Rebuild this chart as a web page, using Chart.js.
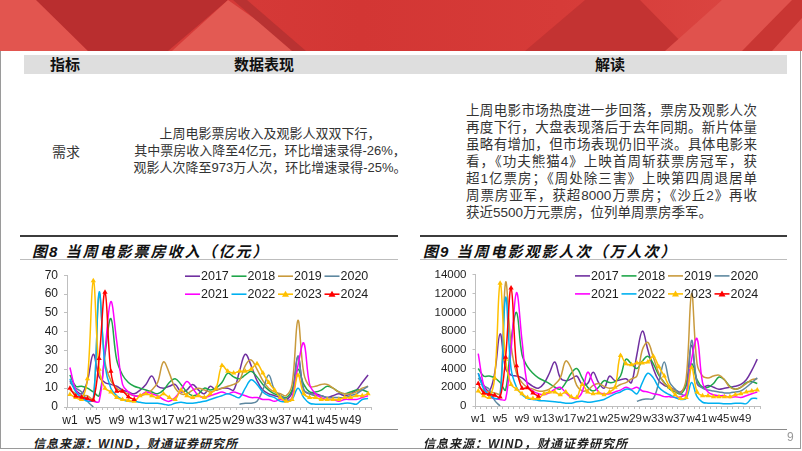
<!DOCTYPE html>
<html lang="zh-CN">
<head>
<meta charset="UTF-8" />
<title>当周电影票房与观影人次</title>
<style>
  html, body {
    margin: 0;
    padding: 0;
    width: 802px;
    height: 451px;
    overflow: hidden;
    background: #fff;
    font-family: "Liberation Sans", "Noto Sans CJK SC", sans-serif;
    color: #222;
  }
  #page { position: relative; width: 802px; height: 451px; }
  #banner { position: absolute; left: 0; top: 0; width: 802px; height: 51px; overflow: hidden;
    background: linear-gradient(90deg, #d9403e, #d33634 45%, #d63b38 70%, #dc4844); }
  #banner div { position: absolute; left: 0; top: 0; width: 802px; height: 51px; }
  #frame { position: absolute; left: 0; top: 51px; width: 799px; height: 397px;
    border-left: 1px solid #9a9a9a; border-right: 1px solid #9a9a9a; border-bottom: 1px solid #9a9a9a; }
  .abs { position: absolute; white-space: nowrap; }
  #headbar { position: absolute; left: 24px; top: 55px; width: 763px; height: 19px; background: #dedede; }
  .head { position: absolute; top: 55px; line-height: 19px; font-size: 15px; font-weight: 700; color: #111; transform: translateX(-50%); }
  .mid { position: absolute; left: 270px; transform: translateX(-50%); font-size: 13px; line-height: 17px; color: #333; white-space: nowrap; }
  .rt { position: absolute; left: 466px; width: 291px; font-size: 13.5px; line-height: 17px; color: #333;
    text-align: justify; text-align-last: justify; white-space: nowrap; }
  .rt.last { text-align-last: left; }
  .line { position: absolute; }
  .ttl { position: absolute; top: 240px; font-size: 15px; font-weight: 700; font-style: italic; letter-spacing: 2px; color: #111; white-space: nowrap; }
  .src { position: absolute; top: 434px; font-size: 12px; font-style: italic; font-weight: 700; letter-spacing: 1px; color: #222; white-space: nowrap; }
  canvas { position: absolute; }
</style>
</head>
<body>
<div id="page">
  <div id="banner">
    <div style="background:#e2554f;clip-path:polygon(0 0,38px 0,88px 51px,0 51px)"></div>
    <div style="background:#b92e2f;clip-path:polygon(36px 0,228px 0,168px 51px,88px 51px)"></div>
    <div style="background:#e35a53;clip-path:polygon(172px 51px,228px 0,300px 51px)"></div>
    <div style="background:#b93232;clip-path:polygon(233px 0,247px 0,306px 51px,292px 51px)"></div>
    <div style="background:#c33332;clip-path:polygon(525px 51px,585px 0,640px 0,690px 51px)"></div>
    <div style="background:#e0524d;clip-path:polygon(665px 51px,722px 0,802px 0,802px 51px)"></div>
    <div style="background:#c93633;clip-path:polygon(742px 51px,792px 0,802px 0,802px 18px,772px 51px)"></div>
  </div>
  <div id="frame"></div>

  <div id="headbar"></div>
  <div class="head" style="left:65px">指标</div>
  <div class="head" style="left:264px">数据表现</div>
  <div class="head" style="left:610px">解读</div>

  <div class="abs" style="left:52px;top:143px;font-size:14px;line-height:18px;color:#333">需求</div>

  <div class="mid" style="top:125px">上周电影票房收入及观影人双双下行，</div>
  <div class="mid" style="top:142px">其中票房收入降至4亿元，环比增速录得-26%，</div>
  <div class="mid" style="top:159px">观影人次降至973万人次，环比增速录得-25%。</div>

  <div class="rt" style="top:102px">上周电影市场热度进一步回落，票房及观影人次</div>
  <div class="rt" style="top:119px">再度下行，大盘表现落后于去年同期。新片体量</div>
  <div class="rt" style="top:136px">虽略有增加，但市场表现仍旧平淡。具体电影来</div>
  <div class="rt" style="top:153px">看，《功夫熊猫4》上映首周斩获票房冠军，获</div>
  <div class="rt" style="top:170px">超1亿票房；《周处除三害》上映第四周退居单</div>
  <div class="rt" style="top:187px">周票房亚军，获超8000万票房；《沙丘2》再收</div>
  <div class="rt last" style="top:204px">获近5500万元票房，位列单周票房季军。</div>

  <div class="line" style="left:20px;top:235px;width:378px;height:2px;background:#3c3c3c"></div>
  <div class="line" style="left:420px;top:235px;width:367px;height:2px;background:#3c3c3c"></div>
  <div class="line" style="left:20px;top:259px;width:378px;height:1px;background:#bdbdbd"></div>
  <div class="line" style="left:420px;top:259px;width:367px;height:1px;background:#bdbdbd"></div>
  <div class="line" style="left:20px;top:429px;width:378px;height:1px;background:#8a8a8a"></div>
  <div class="line" style="left:420px;top:429px;width:367px;height:1px;background:#8a8a8a"></div>

  <div class="ttl" style="left:32px">图8 当周电影票房收入（亿元）</div>
  <div class="ttl" style="left:423px">图9 当周电影观影人次（万人次）</div>

  <canvas id="boxChart" width="356" height="170" style="left:20px;top:262px"></canvas>
  <canvas id="admChart" width="345" height="169" style="left:420px;top:262px"></canvas>

  <div class="src" style="left:33px">信息来源：WIND，财通证券研究所</div>
  <div class="src" style="left:423px">信息来源：WIND，财通证券研究所</div>
  <div class="abs" style="left:787px;top:430px;font-size:12px;color:#999">9</div>
</div>

<script src="https://cdn.jsdelivr.net/npm/chart.js"></script>
<script>
  const weeks = Array.from({ length: 52 }, (_, i) => 'w' + (i + 1));
  const years = ['2017', '2018', '2019', '2020', '2021', '2022', '2023', '2024'];
  const colors = ['#7030a0', '#1fa64a', '#c99a3c', '#5e88a0', '#ff00ff', '#00b0f0', '#ffc000', '#ff0000'];

  // 当周电影票房收入（亿元）
  const bo2017 = [14, 9, 7, 14, 28, 16, 13, 12, 11, 9, 8, 7, 9,
    12, 16.5, 11, 10, 11, 12, 8, 9, 12, 9, 7, 11, 9,
    10, 10, 9, 19, 28, 22, 14, 9, 7, 6, 5, 4, 8,
    27, 9, 7, 7, 6, 5, 6, 7, 6, 7, 9, 13, 17];
  const bo2018 = [17, 11, 11, 10, 8, 6, 28, 47, 25, 17, 13, 11, 10,
    9, 8, 7, 9, 13, 15, 12, 8, 6, 7, 10, 9, 10,
    13, 18, 16, 15, 17, 19, 16, 12, 9, 7, 6, 5, 9,
    20, 12, 8, 8, 9, 11, 10, 8, 7, 8, 9, 9, 8];
  const bo2019 = [9, 7, 6, 6, 4, 60, 24, 14, 10, 8, 7, 6, 6,
    7, 9, 13, 24, 18, 10, 7, 7, 9, 10, 9, 8, 9,
    10, 11, 12, 14, 22, 25, 20, 14, 10, 8, 7, 6, 12,
    46, 18, 11, 11, 12, 12, 10, 8, 7, 7, 8, 10, 11];
  const bo2020 = [13, 10, 8, 3, 0,
    null, null, null, null, null, null, null, null, null, null, null, null,
    null, null, null, null, null, null, null, null, null, null, null, null,
    1.5, 2, 2, 3, 9, 17, 9, 6, 4, 4,
    27, 9, 7, 6, 6, 5, 5, 5, 5, 6, 7, 9, 11];
  const bo2021 = [21, 9, 5, 4, 3, 3, 30, 56, 35, 12, 8, 6, 6,
    8, 7, 6, 4, 3, 5, 9, 13.5, 10, 6, 5, 6, 7,
    8, 7, 8, 7, 6, 5, 5, 4, 4, 3, 4, 3, 5,
    22, 34, 12, 7, 5, 4, 4, 3, 4, 4, 4, 5, 6];
  const bo2022 = [15, 8, 5, 3, 4, 61, 22, 10, 6, 4, 3, 3, 2.5,
    2, 2, 2, 1.5, 1, 2, 2.5, 2, 2, 2.5, 3, 4, 5,
    6, 7, 6, 5, 10, 14.5, 12, 8, 6, 5, 3, 3, 4,
    10, 5, 2, 1.5, 1.5, 1.5, 1.5, 1.5, 2, 2, 1.5, 4, 4.5];
  const bo2023 = [6.6, 5, 4, 15, 67, 20, 10, 8, 5, 4, 3.5, 3, 6,
    7, 6, 5, 7, 5, 4, 9, 6, 5, 6, 5, 7, 10,
    22, 19, 18, 19, 19, 20, 23, 18, 13, 9, 5, 3, 4,
    17, 7, 5, 5, 4, 4, 4, 4, 5, 5, 6, 6, 7];
  const bo2024 = [10, 5.8, 5.2, 4.5, 3.7, 25.8, 61, 19, 8.4, 8.4, 5.4, 4];

  // 当周电影观影人次（万人次）
  const adm2017 = [3500, 2200, 1600, 3500, 7700, 4000, 3300, 3200, 3000, 2500, 2100, 1900, 2400,
    3500, 4700, 3000, 2700, 2900, 3200, 2300, 2400, 3600, 2500, 1900, 3200, 2700,
    2800, 2900, 2500, 5500, 8000, 6000, 4000, 2700, 2200, 2000, 1700, 1500, 2300,
    6500, 2400, 2000, 2200, 2000, 1800, 1900, 2000, 2100, 2300, 2800, 3800, 5000];
  const adm2018 = [4000, 3200, 3200, 3000, 2500, 1700, 7000, 10000, 5500, 4200, 3500, 3000, 2700,
    2400, 2000, 1800, 2500, 3500, 4000, 3000, 2000, 1600, 2000, 2700, 2500, 2600,
    3200, 5000, 4500, 4000, 4800, 5300, 4500, 3300, 2500, 1800, 1500, 1300, 2200,
    4500, 2800, 2000, 2000, 2400, 3100, 2800, 2100, 1800, 2000, 2500, 2600, 2400];
  const adm2019 = [2000, 1700, 1500, 1400, 1300, 13200, 6500, 3500, 2500, 2000, 1800, 1600, 1600,
    1800, 2300, 3000, 4800, 4000, 2200, 1600, 1700, 2200, 2400, 2100, 1900, 2000,
    2300, 2500, 2900, 3200, 6000, 6800, 5200, 3500, 2400, 2000, 1600, 1400, 2900,
    12000, 4500, 3200, 3000, 3200, 3300, 2800, 2000, 1800, 2000, 2400, 2800, 2900];
  const adm2020 = [3000, 2200, 1800, 600, 0,
    null, null, null, null, null, null, null, null, null, null, null, null,
    null, null, null, null, null, null, null, null, null, null, null, null,
    500, 700, 750, 800, 2500, 4700, 2500, 1800, 1300, 1200,
    7000, 2500, 1900, 1700, 1600, 1500, 1400, 1400, 1500, 1600, 2000, 2500, 3000];
  const adm2021 = [5600, 2200, 1000, 800, 700, 700, 6000, 12100, 7000, 2200, 1600, 1300, 1200,
    1400, 1800, 2000, 1400, 900, 800, 1500, 3600, 2500, 1500, 1300, 1300, 1500,
    1700, 2000, 1800, 2000, 1600, 1500, 1300, 1200, 1000, 1000, 900, 1000, 1300,
    5000, 7200, 2500, 1500, 1200, 1100, 1100, 900, 1000, 900, 1100, 1300, 1500];
  const adm2022 = [3500, 1800, 1200, 800, 1000, 11600, 4000, 2000, 1200, 800, 700, 600, 550,
    500, 450, 400, 300, 300, 450, 500, 400, 450, 550, 700, 1000, 1300,
    1500, 1800, 1700, 1300, 2500, 3500, 3000, 2000, 1500, 1200, 900, 700, 800,
    2500, 1000, 400, 300, 300, 300, 250, 250, 300, 300, 250, 800, 800];
  const adm2023 = [1600, 1100, 900, 3000, 13100, 5000, 2300, 1800, 1300, 900, 800, 800, 1300,
    1500, 1500, 1200, 1500, 1000, 900, 2300, 1500, 1300, 1400, 1200, 1500, 2000,
    5400, 4500, 4400, 4600, 4600, 4700, 5300, 4200, 3200, 2000, 1200, 800, 900,
    4100, 1500, 1100, 1100, 1000, 1000, 1000, 1000, 1200, 1300, 1500, 1600, 1700];
  const adm2024 = [2400, 1400, 1250, 1150, 950, 5200, 12600, 4300, 1900, 1950, 1400, 1050];

  const boTicks = [0, 10, 20, 30, 40, 50, 60, 70];
  const admTicks = [0, 2000, 4000, 6000, 8000, 10000, 12000, 14000];

  // legend drawn inside the plot, top right, two rows of four
  const cornerLegend = {
    id: 'cornerLegend',
    afterDatasetsDraw(chart, args, opts) {
      const ctx = chart.ctx;
      const area = chart.chartArea;
      const x0 = area.right - opts.itemWidth * 4 + opts.shift;
      ctx.save();
      ctx.font = opts.fontSize + 'px "Liberation Sans", Arial, sans-serif';
      ctx.textBaseline = 'middle';
      chart.data.datasets.forEach((ds, i) => {
        const x = x0 + (i % 4) * opts.itemWidth;
        const y = area.top + 1 + Math.floor(i / 4) * 18;
        ctx.strokeStyle = ds.borderColor;
        ctx.lineWidth = 1.6;
        ctx.beginPath();
        ctx.moveTo(x, y);
        ctx.lineTo(x + 15, y);
        ctx.stroke();
        if (ds.pointRadius > 0) {
          ctx.fillStyle = ds.borderColor;
          ctx.beginPath();
          ctx.moveTo(x + 7.5, y - 3.5);
          ctx.lineTo(x + 11, y + 2.5);
          ctx.lineTo(x + 4, y + 2.5);
          ctx.closePath();
          ctx.fill();
        }
        ctx.fillStyle = '#1e1e1e';
        ctx.fillText(years[i], x + 16, y + 0.5);
      });
      ctx.restore();
    }
  };

  function makeChart(id, series, ticks, yWidth, fontSize, shift) {
    const datasets = series.map((data, i) => ({
      label: years[i],
      data: data,
      borderColor: colors[i],
      backgroundColor: colors[i],
      borderWidth: 1.5,
      pointRadius: i >= 6 ? 3 : 0,
      pointStyle: 'triangle',
      pointBorderWidth: 0,
      tension: 0.38,
      spanGaps: false,
      order: 7 - i
    }));
    return new Chart(document.getElementById(id), {
      type: 'line',
      data: { labels: weeks, datasets: datasets },
      plugins: [cornerLegend],
      options: {
        responsive: false,
        animation: false,
        events: [],
        layout: { padding: { top: 11, right: 5, left: 0, bottom: 0 } },
        plugins: {
          legend: { display: false },
          tooltip: { enabled: false },
          cornerLegend: { itemWidth: 46.5, fontSize: 12.5, shift: shift }
        },
        scales: {
          x: {
            offset: true,
            border: { color: '#bfbfbf' },
            grid: { drawOnChartArea: false, offset: true, tickLength: 3, color: '#bfbfbf' },
            ticks: {
              autoSkip: false,
              maxRotation: 0,
              padding: 3,
              color: '#1e1e1e',
              font: { size: fontSize, family: '"Liberation Sans", Arial, sans-serif' },
              callback: (v, i) => (i % 4 === 0 ? weeks[i] : '')
            },
            afterFit: s => { s.height = 25; }
          },
          y: {
            min: ticks[0],
            max: ticks[ticks.length - 1],
            border: { color: '#bfbfbf' },
            grid: { drawOnChartArea: false, tickLength: 3, color: '#bfbfbf' },
            afterBuildTicks: s => { s.ticks = ticks.map(v => ({ value: v })); },
            ticks: {
              padding: 6,
              color: '#1e1e1e',
              font: { size: fontSize, family: '"Liberation Sans", Arial, sans-serif' },
              callback: v => String(v)
            },
            afterFit: s => { s.width = yWidth; }
          }
        }
      }
    });
  }

  makeChart('boxChart',
    [bo2017, bo2018, bo2019, bo2020, bo2021, bo2022, bo2023, bo2024],
    boTicks, 47, 12, 0);
  makeChart('admChart',
    [adm2017, adm2018, adm2019, adm2020, adm2021, adm2022, adm2023, adm2024],
    admTicks, 55.5, 11.5, 1);
</script>
</body>
</html>
